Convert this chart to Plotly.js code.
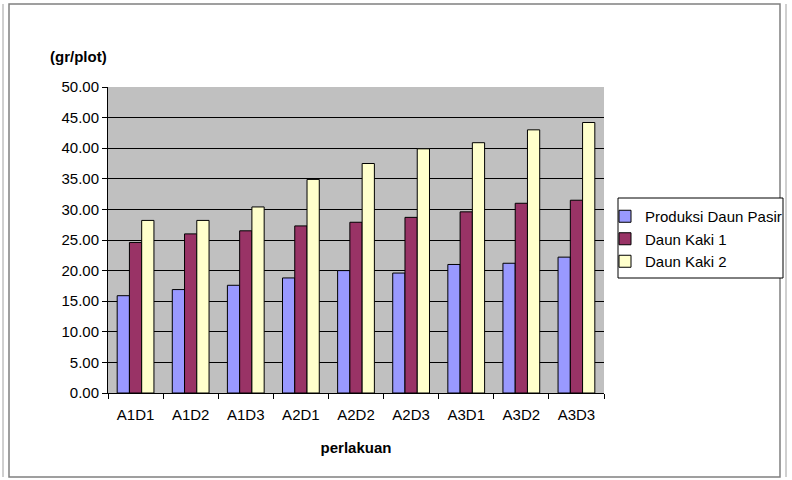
<!DOCTYPE html>
<html>
<head>
<meta charset="utf-8">
<script src="https://cdn.plot.ly/plotly-3.0.1.min.js"></script>
<style>html,body{margin:0;padding:0;background:#fff;}#chart{width:792px;height:480px;}</style>
</head>
<body>
<div id="chart"></div>
<script>
const categories = ["A1D1","A1D2","A1D3","A2D1","A2D2","A2D3","A3D1","A3D2","A3D3"];
const produksiDaunPasir = [15.9, 16.9, 17.6, 18.8, 20.0, 19.6, 21.0, 21.2, 22.2];
const daunKaki1 = [24.6, 26.0, 26.5, 27.3, 27.9, 28.7, 29.6, 31.0, 31.5];
const daunKaki2 = [28.2, 28.2, 30.4, 34.9, 37.5, 39.9, 40.9, 43.0, 44.2];
const seriesNames = ["Produksi Daun Pasir", "Daun Kaki 1", "Daun Kaki 2"];
const seriesColors = ["#9999FF", "#993366", "#FFFFCC"];

const W = 792, H = 480;
const L = 108, R = 604, T = 87, B = 393;
const px = x => (x - L) / (R - L);
const py = y => (B - y) / (B - T);
const FONT = "Liberation Sans, Arial, sans-serif";

const values = [produksiDaunPasir, daunKaki1, daunKaki2];
const traces = values.map((v, i) => ({
  type: "bar",
  x: categories,
  y: v,
  name: seriesNames[i],
  marker: {color: seriesColors[i], line: {color: "#000000", width: 1}},
  hoverinfo: "x+y+name"
}));

const layout = {
  width: W, height: H,
  margin: {l: L, r: W - R, t: T, b: H - B, pad: 0, autoexpand: false},
  paper_bgcolor: "#ffffff",
  plot_bgcolor: "#C0C0C0",
  barmode: "group",
  bargap: 0.333,
  bargroupgap: 0,
  font: {family: FONT, size: 15, color: "#000000"},
  showlegend: true,
  legend: {
    x: px(605), y: py(200), xanchor: "left", yanchor: "top",
    bgcolor: "rgba(0,0,0,0)", borderwidth: 0,
    font: {family: FONT, size: 15, color: "#000"},
    tracegroupgap: 0
  },
  xaxis: {
    type: "category",
    tickson: "boundaries",
    ticks: "outside", ticklen: 5, tickcolor: "#000",
    showline: true, linecolor: "#000", linewidth: 1,
    showgrid: false,
    tickfont: {family: FONT, size: 15},
    ticklabelstandoff: 8,
    automargin: false,
    title: {text: "<b>perlakuan</b>", font: {family: FONT, size: 15}, standoff: 20}
  },
  yaxis: {
    range: [0, 50], dtick: 5, tickformat: ".2f",
    ticks: "outside", ticklen: 5, tickcolor: "#000",
    showline: true, linecolor: "#000", linewidth: 1,
    showgrid: true, gridcolor: "#000000", gridwidth: 1,
    zeroline: false,
    automargin: false,
    tickfont: {family: FONT, size: 15},
    fixedrange: true
  },
  annotations: [{
    text: "<b>(gr/plot)</b>", xref: "paper", yref: "paper",
    x: px(78), y: py(57), xanchor: "center", yanchor: "middle",
    showarrow: false, font: {family: FONT, size: 15}
  }],
  shapes: [
    {type: "rect", xref: "paper", yref: "paper", x0: px(9), x1: px(780), y0: py(4), y1: py(477),
     line: {color: "#808080", width: 1.5}, fillcolor: "rgba(0,0,0,0)", layer: "below"},
    {type: "line", xref: "paper", yref: "paper", x0: px(3), x1: px(3), y0: py(4), y1: py(477),
     line: {color: "#a0a0a0", width: 1}},
    {type: "line", xref: "paper", yref: "paper", x0: px(786), x1: px(786), y0: py(4), y1: py(477),
     line: {color: "#a0a0a0", width: 1}},
    {type: "rect", xref: "paper", yref: "paper", x0: px(618), x1: px(783), y0: py(198), y1: py(278),
     line: {color: "#000000", width: 1}, fillcolor: "#ffffff", layer: "above"}
  ]
};

Plotly.newPlot("chart", traces, layout, {displayModeBar: false, staticPlot: true});
</script>
</body>
</html>
